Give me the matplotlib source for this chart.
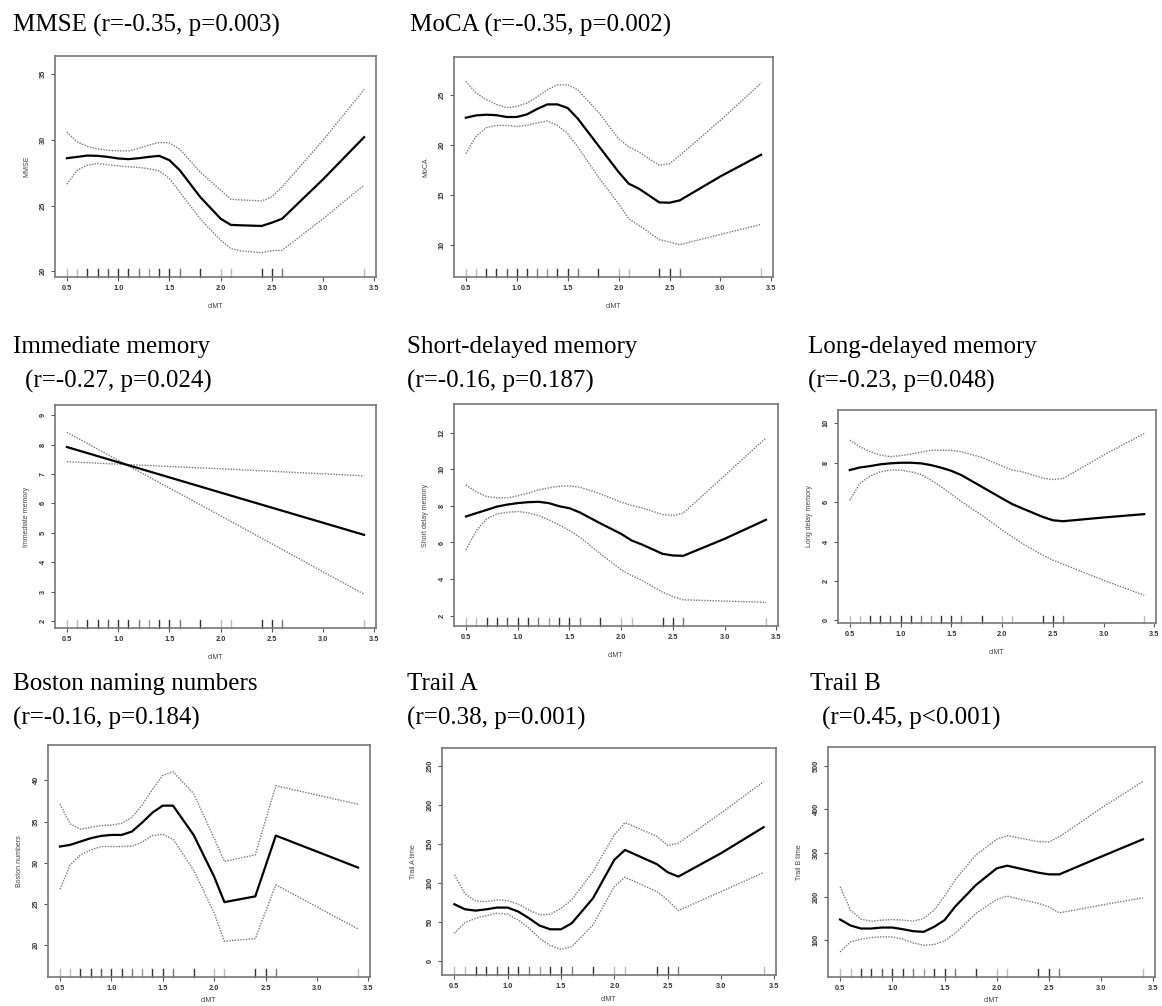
import matplotlib
matplotlib.use("Agg")
import matplotlib.pyplot as plt
import matplotlib.transforms as mtransforms

W, H = 1162, 1006

# ---------------- data ----------------
x_grid = [0.5, 0.6, 0.7, 0.8, 0.9, 1.0, 1.1, 1.2, 1.3, 1.4, 1.5, 1.6, 1.8, 2.0, 2.1, 2.2, 2.4, 2.5, 2.6, 3.0, 3.4]

mmse_fit = [28.6, 28.7, 28.8, 28.78, 28.7, 28.58, 28.53, 28.6, 28.7, 28.78, 28.45, 27.7, 25.66, 24.0, 23.53, 23.5, 23.45, 23.7, 24.0, 27.0, 30.2]
mmse_up = [30.58, 29.85, 29.5, 29.3, 29.2, 29.16, 29.16, 29.34, 29.6, 29.8, 29.77, 29.29, 27.56, 26.17, 25.48, 25.43, 25.35, 25.66, 26.42, 29.97, 33.83]
mmse_lo = [26.62, 27.69, 28.07, 28.2, 28.1, 28.02, 27.95, 27.9, 27.8, 27.64, 27.06, 26.04, 24.0, 22.36, 21.73, 21.55, 21.42, 21.57, 21.6, 24.0, 26.55]

moca_fit = [22.7, 22.93, 23.0, 22.95, 22.77, 22.77, 23.03, 23.57, 24.03, 24.03, 23.67, 22.6, 19.93, 17.27, 16.1, 15.6, 14.23, 14.2, 14.43, 16.83, 19.0]
moca_up = [26.33, 25.17, 24.5, 24.03, 23.7, 23.83, 24.17, 24.77, 25.5, 25.97, 26.0, 25.5, 23.27, 20.6, 19.77, 19.27, 17.93, 18.1, 18.93, 22.43, 26.17]
moca_lo = [19.1, 20.83, 21.7, 21.93, 21.93, 21.83, 21.93, 22.17, 22.37, 21.93, 21.1, 19.77, 16.77, 14.1, 12.6, 11.93, 10.5, 10.27, 10.0, 11.03, 12.03]

imm_x = [0.5, 1.1, 2.0, 3.4]
imm_fit = [7.92, 7.30, 6.37, 4.93]
imm_up = [7.42, 7.32, 7.18, 6.94]
imm_lo = [8.42, 7.28, 5.58, 2.91]

short_fit = [7.42, 7.6, 7.78, 7.96, 8.07, 8.15, 8.2, 8.22, 8.15, 7.98, 7.87, 7.64, 7.04, 6.47, 6.11, 5.89, 5.38, 5.29, 5.27, 6.2, 7.24]
short_up = [9.15, 8.75, 8.51, 8.44, 8.44, 8.55, 8.69, 8.87, 8.98, 9.07, 9.09, 9.02, 8.65, 8.2, 8.02, 7.89, 7.53, 7.47, 7.6, 9.65, 11.71]
short_lo = [5.6, 6.65, 7.29, 7.56, 7.65, 7.69, 7.62, 7.47, 7.24, 6.96, 6.65, 6.29, 5.38, 4.51, 4.2, 3.93, 3.29, 3.05, 2.87, 2.8, 2.73]

long_fit = [7.63, 7.76, 7.83, 7.92, 7.97, 8.0, 8.0, 7.97, 7.88, 7.75, 7.59, 7.37, 6.78, 6.19, 5.9, 5.68, 5.25, 5.08, 5.03, 5.22, 5.39]
long_up = [9.15, 8.81, 8.56, 8.39, 8.31, 8.36, 8.44, 8.54, 8.63, 8.64, 8.63, 8.56, 8.27, 7.83, 7.63, 7.54, 7.22, 7.15, 7.2, 8.39, 9.49]
long_lo = [6.1, 6.95, 7.32, 7.54, 7.63, 7.63, 7.54, 7.41, 7.12, 6.78, 6.41, 6.02, 5.34, 4.58, 4.24, 3.9, 3.31, 3.05, 2.85, 2.03, 1.27]

bos_x = [0.5, 0.6, 0.7, 0.8, 0.9, 1.0, 1.1, 1.2, 1.3, 1.4, 1.5, 1.6, 1.8, 2.0, 2.1, 2.4, 2.6, 3.4]
bos_fit = [31.96, 32.16, 32.57, 32.97, 33.25, 33.37, 33.37, 33.78, 34.87, 36.08, 36.93, 36.93, 33.37, 28.3, 25.2, 25.9, 33.29, 29.4]
bos_up = [37.13, 34.71, 34.06, 34.3, 34.5, 34.57, 34.77, 35.5, 37.0, 38.9, 40.6, 41.05, 38.4, 32.97, 30.14, 30.95, 39.35, 37.1]
bos_lo = [26.77, 29.72, 30.93, 31.54, 31.96, 31.96, 31.96, 32.0, 32.5, 33.29, 33.45, 32.85, 29.1, 23.9, 20.45, 20.77, 27.3, 21.94]

tr_x = [0.5, 0.6, 0.7, 0.8, 0.9, 1.0, 1.1, 1.2, 1.3, 1.4, 1.5, 1.6, 1.8, 2.0, 2.1, 2.4, 2.5, 2.6, 3.0, 3.4]
trA_fit = [72.9, 66.4, 64.7, 66.4, 68.6, 68.6, 63.4, 54.9, 45.4, 40.7, 40.7, 48.4, 80.6, 130.0, 142.7, 124.3, 114.0, 108.4, 138.4, 171.9]
trA_up = [110.6, 86.1, 77.1, 76.3, 78.4, 77.6, 72.9, 65.6, 59.1, 60.0, 67.7, 78.4, 114.9, 162.0, 177.9, 160.0, 148.3, 151.3, 190.0, 230.3]
trA_lo = [35.6, 49.3, 54.9, 58.3, 61.3, 60.0, 52.7, 42.0, 29.1, 19.7, 15.0, 18.4, 46.3, 95.6, 107.6, 89.1, 78.4, 64.7, 89.1, 113.6]

trB_fit = [147.5, 133.7, 126.8, 126.8, 129.1, 129.1, 125.3, 120.7, 119.2, 130.7, 146.0, 176.6, 226.4, 264.8, 270.9, 254.8, 251.0, 251.0, 291.6, 331.4]
trB_up = [222.6, 169.0, 148.3, 143.7, 146.0, 147.5, 146.0, 143.7, 149.8, 169.0, 201.0, 237.9, 295.4, 331.4, 339.8, 326.0, 325.3, 337.5, 402.7, 464.0]
trB_lo = [73.2, 96.2, 102.3, 106.1, 107.7, 107.7, 102.3, 93.9, 88.5, 90.0, 98.5, 115.3, 161.3, 193.5, 201.1, 184.3, 176.6, 162.8, 180.5, 197.3]

rug_x = [0.5, 0.6, 0.7, 0.8, 0.9, 1.0, 1.1, 1.2, 1.3, 1.4, 1.5, 1.6, 1.8, 2.0, 2.1, 2.4, 2.5, 2.6, 3.4]
rug_shade = ['#bbbbbb', '#bbbbbb', '#333333', '#333333', '#555555', '#333333', '#333333', '#777777', '#999999', '#333333',
             '#333333', '#777777', '#333333', '#bbbbbb', '#bbbbbb', '#333333', '#333333', '#777777', '#bbbbbb']

xticks = [0.5, 1.0, 1.5, 2.0, 2.5, 3.0, 3.5]

panels = [
    # box(l, t, r, b) px
    dict(box=(55, 56, 376, 277), x=x_grid, fit=mmse_fit, up=mmse_up, lo=mmse_lo,
         ylim=(19.57, 36.37), yticks=[20, 25, 30, 35], ylabel="MMSE", xpad=8),
    dict(box=(454, 57, 773, 277), x=x_grid, fit=moca_fit, up=moca_up, lo=moca_lo,
         ylim=(6.77, 28.77), yticks=[10, 15, 20, 25], ylabel="MoCA", xpad=8),
    dict(box=(55, 405, 376, 628), x=imm_x, fit=imm_fit, up=imm_up, lo=imm_lo,
         ylim=(1.76, 9.35), yticks=[2, 3, 4, 5, 6, 7, 8, 9], ylabel="Immediate memory", xpad=8),
    dict(box=(454, 404, 778, 626), x=x_grid, fit=short_fit, up=short_up, lo=short_lo,
         ylim=(1.44, 13.56), yticks=[2, 4, 6, 8, 10, 12], ylabel="Short delay memory", xpad=8),
    dict(box=(838, 410, 1156, 623), x=x_grid, fit=long_fit, up=long_up, lo=long_lo,
         ylim=(-0.14, 10.68), yticks=[0, 2, 4, 6, 8, 10], ylabel="Long delay memory", xpad=8),
    dict(box=(48, 745, 370, 977), x=bos_x, fit=bos_fit, up=bos_up, lo=bos_lo,
         ylim=(16.1, 44.3), yticks=[20, 25, 30, 35, 40], ylabel="Boston numbers", xpad=3),
    dict(box=(442, 748, 776, 975), x=tr_x, fit=trA_fit, up=trA_up, lo=trA_lo,
         ylim=(-18, 273.6), yticks=[0, 50, 100, 150, 200, 250], ylabel="Trail A time", xpad=4),
    dict(box=(828, 747, 1155, 977), x=tr_x, fit=trB_fit, up=trB_up, lo=trB_lo,
         ylim=(15.7, 543), yticks=[100, 200, 300, 400, 500], ylabel="Trail B time", xpad=3),
]

titles = [
    # (x px, baseline y px, text)
    (13, 32, "MMSE (r=-0.35, p=0.003)"),
    (410, 32, "MoCA (r=-0.35, p=0.002)"),
    (13, 353, "Immediate memory"),
    (25, 388, "(r=-0.27, p=0.024)"),
    (407, 353, "Short-delayed memory"),
    (407, 388, "(r=-0.16, p=0.187)"),
    (808, 353, "Long-delayed memory"),
    (808, 388, "(r=-0.23, p=0.048)"),
    (13, 690, "Boston naming numbers"),
    (13, 725, "(r=-0.16, p=0.184)"),
    (407, 690, "Trail A"),
    (407, 725, "(r=0.38, p=0.001)"),
    (810, 690, "Trail B"),
    (822, 725, "(r=0.45, p<0.001)"),
]

fig = plt.figure(figsize=(W / 100, H / 100), dpi=100)
fig.patch.set_facecolor("white")

frame_col = "#777777"
tick_font = dict(family="Liberation Sans", size=5.3, weight="bold")

for p in panels:
    l, t, r, b = p["box"]
    ax = fig.add_axes([l / W, 1 - b / H, (r - l) / W, (b - t) / H])
    ax.plot(p["x"], p["up"], color="#777777", lw=1.0, ls=(0, (1, 1)))
    ax.plot(p["x"], p["lo"], color="#777777", lw=1.0, ls=(0, (1, 1)))
    ax.plot(p["x"], p["fit"], color="black", lw=1.6, solid_joinstyle="round")
    trans = mtransforms.blended_transform_factory(ax.transData, ax.transAxes)
    for rx, rc in zip(rug_x, rug_shade):
        ax.plot([rx, rx], [0, 0.035], color=rc, lw=1.0, transform=trans, clip_on=False)
    ax.set_xlim(0.384, 3.516)
    ax.set_ylim(*p["ylim"])
    ax.set_xticks(xticks)
    ax.set_xticklabels([f"{v:.1f}" for v in xticks], fontdict=tick_font, color="#333333")
    ax.set_yticks(p["yticks"])
    ax.set_yticklabels([str(v) for v in p["yticks"]], fontdict=tick_font, color="#333333",
                       rotation=90, va="center")
    ax.tick_params(axis="both", length=3, width=0.8, color="#555555", pad=3)
    for s in ax.spines.values():
        s.set_color(frame_col)
        s.set_linewidth(1.2)
    ax.set_xlabel("cIMT", fontsize=5, family="Liberation Sans", color="#444444", labelpad=p["xpad"])
    ax.set_ylabel(p["ylabel"], fontsize=5, family="Liberation Sans", color="#444444", labelpad=7)

for x, y, s in titles:
    fig.text(x / W, 1 - y / H, s, fontsize=18, family="Liberation Serif", color="black",
             ha="left", va="baseline")

fig.savefig("out.png", dpi=100, facecolor="white")
